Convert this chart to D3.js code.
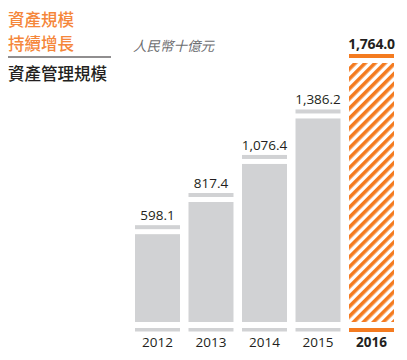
<!DOCTYPE html>
<html>
<head>
  <title>資產管理規模</title>
  <style>
    body { margin: 0; background: #fff; }
    text { font-family: "Open Sans", "Noto Sans", sans-serif; }
    .cjk { font-family: "Noto Sans CJK TC", "Noto Sans CJK SC", sans-serif; }
  </style>
</head>
<body>
  <svg id="chart"></svg>

  <script src="https://d3js.org/d3.v7.min.js"></script>
  <script>
    // 人民幣十億元
    const years = ["2012", "2013", "2014", "2015", "2016"];
    const values = [598.1, 817.4, 1076.4, 1386.2, 1764.0];
    const valueLabels = ["598.1", "817.4", "1,076.4", "1,386.2", "1,764.0"];
    const highlight = "2016";

    const width = 407, height = 360;
    const orange = "#f47b20", grey = "#d1d2d4";

    const svg = d3.select("#chart").attr("width", width).attr("height", height);

    // hatch pattern for the highlighted year
    const pat = svg.append("defs").append("pattern")
      .attr("id", "hatch")
      .attr("patternUnits", "userSpaceOnUse")
      .attr("width", 7).attr("height", 7)
      .attr("patternTransform", "rotate(45)");
    pat.append("rect").attr("width", 7).attr("height", 7).attr("fill", "#fff");
    pat.append("rect").attr("width", 3.6).attr("height", 7).attr("fill", orange);

    const x = d3.scaleBand().domain(years).range([135, 394]).paddingInner(0.159).paddingOuter(0);
    const y = d3.scaleLinear().domain([0, 1764]).range([322, 63]);

    const data = years.map((yr, i) => ({ year: yr, value: values[i], label: valueLabels[i] }));

    const g = svg.append("g");

    // bars
    g.selectAll("rect.bar")
      .data(data)
      .join("rect")
      .attr("class", "bar")
      .attr("x", d => x(d.year))
      .attr("y", d => y(d.value))
      .attr("width", x.bandwidth())
      .attr("height", d => y(0) - y(d.value))
      .attr("fill", d => d.year === highlight ? "url(#hatch)" : grey);

    // caps above bars
    g.selectAll("rect.cap")
      .data(data)
      .join("rect")
      .attr("class", "cap")
      .attr("x", d => x(d.year))
      .attr("y", d => y(d.value) - 9)
      .attr("width", x.bandwidth())
      .attr("height", 4)
      .attr("fill", d => d.year === highlight ? orange : grey);

    // base strips
    g.selectAll("rect.base")
      .data(data)
      .join("rect")
      .attr("class", "base")
      .attr("x", d => x(d.year))
      .attr("y", y(0) + 6)
      .attr("width", x.bandwidth())
      .attr("height", d => d.year === highlight ? 4 : 3.5)
      .attr("fill", d => d.year === highlight ? orange : grey);

    // value labels
    g.selectAll("text.val")
      .data(data)
      .join("text")
      .attr("class", "val")
      .attr("x", d => x(d.year) + x.bandwidth() / 2)
      .attr("y", d => y(d.value) - 14)
      .attr("text-anchor", "middle")
      .attr("font-size", d => d.year === highlight ? 14 : 13.5)
      .attr("letter-spacing", d => d.year === highlight ? -0.2 : 0)
      .attr("font-weight", d => d.year === highlight ? 700 : 400)
      .attr("fill", "#231f20")
      .text(d => d.label);

    // year labels
    const xAxis = svg.append("g")
      .attr("transform", `translate(0, ${y(0) + 10})`)
      .call(d3.axisBottom(x).tickSize(0).tickPadding(5));
    xAxis.select(".domain").remove();
    xAxis.selectAll("text")
      .attr("font-family", "'Open Sans', 'Noto Sans', sans-serif")
      .attr("font-size", 13.5)
      .attr("font-weight", d => d === highlight ? 700 : 400)
      .attr("fill", "#231f20");

    // titles
    svg.append("text").attr("class", "cjk")
      .attr("x", 8).attr("y", 26)
      .attr("font-size", 16.5).attr("font-weight", 500)
      .attr("fill", "#f5863a").text("資產規模");
    svg.append("text").attr("class", "cjk")
      .attr("x", 8).attr("y", 50)
      .attr("font-size", 16.5).attr("font-weight", 500)
      .attr("fill", "#f5863a").text("持續增長");
    svg.append("line")
      .attr("x1", 8).attr("x2", 111).attr("y1", 57).attr("y2", 57)
      .attr("stroke", "#231f20").attr("stroke-width", 1.2);
    svg.append("text").attr("class", "cjk")
      .attr("x", 8).attr("y", 80)
      .attr("font-size", 16.5).attr("font-weight", 500)
      .attr("fill", "#231f20").text("資產管理規模");

    svg.append("text").attr("class", "cjk")
      .attr("x", 133).attr("y", 51)
      .attr("font-size", 13.5).attr("font-style", "italic")
      .attr("fill", "#6d6e71").text("人民幣十億元");
  </script>
</body>
</html>
